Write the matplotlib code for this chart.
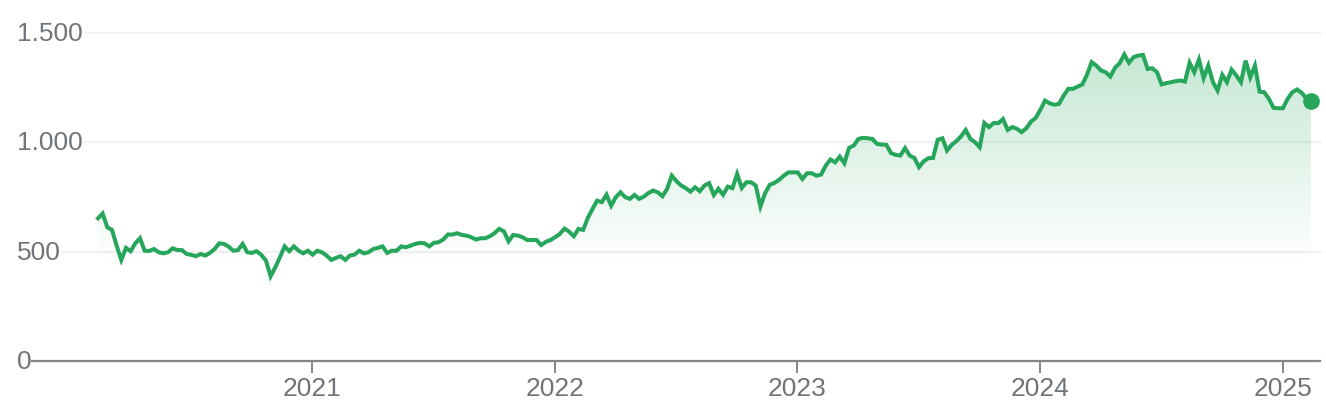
import matplotlib
matplotlib.use('Agg')
import matplotlib.pyplot as plt
import matplotlib.dates as mdates
import numpy as np
import pandas as pd
from matplotlib.colors import LinearSegmentedColormap

# weekly closes (Feb 2020 -> Feb 2025)
start_date = '2020-02-14'
end_date = '2025-02-12'
values = [
    652, 674, 611, 599, 527, 462, 517, 502, 538, 561, 504, 503, 512, 497, 492, 497, 515,
    507, 507, 489, 485, 479, 489, 482, 494, 512, 538, 535, 523, 504, 507, 535, 497,
    494, 502, 485, 459, 387, 428, 474, 524, 502, 524, 504, 492, 504, 486, 504, 497, 482,
    462, 471, 479, 462, 482, 486, 504, 492, 497, 512, 517, 524, 494, 504, 504, 524, 520,
    527, 535, 540, 538, 524, 540, 543, 555, 578, 578, 584, 576, 573, 566, 555, 561, 561,
    570, 584, 604, 593, 547, 576, 573, 566, 553, 553, 553, 530, 545, 553, 566,
    581, 605, 591, 570, 604, 599, 654, 695, 733, 726, 760, 710, 749, 771, 749, 741, 759,
    741, 751, 768, 779, 771, 753, 787, 847, 822, 802, 790, 774, 794, 776, 802, 813,
    759, 787, 760, 797, 790, 855, 791, 817, 817, 802, 706, 767, 805, 814, 828, 847, 862,
    862, 862, 832, 858, 858, 847, 852, 893, 921, 908, 934, 904, 974, 985, 1015, 1020, 1018,
    1015, 992, 989, 988, 950, 942, 939, 973, 939, 928, 886, 913, 927, 928, 1011, 1018, 962,
    988, 1005, 1027, 1056, 1015, 1000, 977, 1088, 1069, 1088, 1087, 1106, 1056, 1069, 1061, 1046,
    1064, 1094, 1111, 1148, 1190, 1178, 1171, 1175, 1213, 1244, 1244, 1254, 1264, 1308, 1366,
    1350, 1328, 1320, 1300, 1340, 1361, 1401, 1363, 1389, 1396, 1399, 1335, 1338, 1320, 1264,
    1270, 1274, 1279,
    1282, 1277, 1363, 1320, 1378, 1293, 1350, 1274, 1236, 1308, 1274, 1332, 1305, 1274, 1373,
    1297, 1350, 1231, 1228, 1198, 1157, 1155, 1155, 1198, 1228, 1241, 1226, 1201, 1187,
]
y_ticks = [0, 500, 1000, 1500]
y_labels = ['0', '500', '1.000', '1.500']
x_years = [2021, 2022, 2023, 2024, 2025]

GREEN = '#26a65b'
GREY_TXT = '#70757a'
GREY_AX = '#80868b'
GRID = '#f1f1f1'
FS = 19

dates = pd.date_range(start_date, end_date, periods=len(values))
xs = mdates.date2num(dates)
vals = np.array(values, dtype=float)

# pixel -> data mapping (axes fills the whole figure)
W, H = 1326, 406
x_ref = mdates.date2num(pd.Timestamp('2021-01-01'))
px_year = 242.75
dpp = 365.25 / px_year          # days per pixel
vpp = 500 / 109.4               # value per pixel
def px2x(px):
    return x_ref + (px - 312) * dpp
def py2y(py):
    return (362 - py) * vpp

fig = plt.figure(figsize=(W / 100, H / 100), dpi=100)
ax = fig.add_axes([0, 0, 1, 1])
ax.set_xlim(px2x(0), px2x(W))
ax.set_ylim(py2y(H), py2y(0))
ax.axis('off')

# gridlines + y labels
grid_start = {0: 32, 500: 63, 1000: 85, 1500: 85}
for t, lab in zip(y_ticks, y_labels):
    if t == 0:
        ax.plot([px2x(grid_start[t]), px2x(1320)], [0, 0], color=GREY_AX, lw=1.6, zorder=3)
    else:
        ax.plot([px2x(grid_start[t]), px2x(1320)], [t, t], color=GRID, lw=1.6, zorder=1)
    ax.text(px2x(17), t, lab, ha='left', va='center', fontsize=FS,
            color=GREY_TXT, family='Liberation Sans')

# year ticks
for yr in x_years:
    xv = mdates.date2num(pd.Timestamp(f'{yr}-01-01'))
    ax.plot([xv, xv], [0, py2y(373)], color=GREY_AX, lw=1.4, zorder=3)
    ax.text(xv, py2y(389), str(yr), ha='center', va='center', fontsize=FS,
            color=GREY_TXT, family='Liberation Sans')

# gradient area under the line
poly = ax.fill_between(xs, vals, 0, color='none', lw=0)
cmap = LinearSegmentedColormap.from_list(
    'g', [(0.149, 0.651, 0.357, 0.0), (0.149, 0.651, 0.357, 0.27)], N=256)
grad = np.linspace(0, 1, 256).reshape(-1, 1)
im = ax.imshow(grad, cmap=cmap, aspect='auto', origin='lower',
               extent=[xs[0], xs[-1], 440, 1420], zorder=1.5)
im.set_clip_path(poly.get_paths()[0], transform=ax.transData)

ax.plot(xs, vals, color=GREEN, lw=2.9, solid_joinstyle='miter', zorder=4)
ax.plot(xs[-1], vals[-1], 'o', color=GREEN, markersize=11, zorder=5)

fig.savefig('out.png', dpi=100)
